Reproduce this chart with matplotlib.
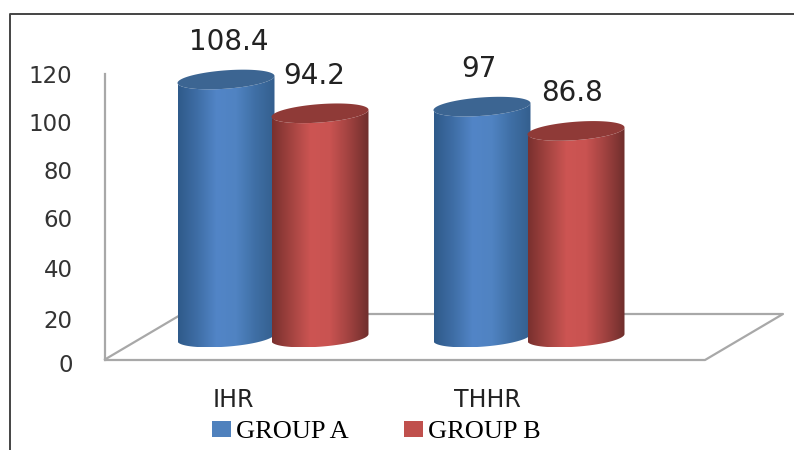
import matplotlib
matplotlib.use('Agg')
import matplotlib.pyplot as plt
from matplotlib.colors import LinearSegmentedColormap
from matplotlib.lines import Line2D
from matplotlib.patches import Patch, Polygon
from matplotlib.transforms import Affine2D
import numpy as np

categories = ['IHR', 'THHR']
group_names = ['GROUP A', 'GROUP B']
group_a = [108.4, 97]
group_b = [94.2, 86.8]
y_ticks = [0, 20, 40, 60, 80, 100, 120]

W, H = 794, 450
X_SCALE = 256.0  # px per category step
Y_SCALE = 2.38  # px per value unit
CAT0_PX = 273
ZERO_PX = 360

BAR_W = 97 / X_SCALE
BAR_OFFSET = 47 / X_SCALE
LIFT = 22.5 / Y_SCALE  # the bars stand further back on the floor

BLUE_STOPS = ['#2f5a8a', '#3f6ea6', '#5285c7', '#5083c2', '#3f6fa5', '#345f8e']
RED_STOPS = ['#7a302e', '#a44441', '#cd5553', '#c95351', '#a04240', '#6f2e2c']
BLUE_TOP = '#3c6592'
RED_TOP = '#8f3a37'
BLUE_KEY = '#4f81bd'
RED_KEY = '#c0504d'
FLOOR = '#a8a8a8'
TEXT = '#222222'

# sideways shift of the value labels, in points
label_shift = {108.4: 2, 94.2: -4, 97: -2, 86.8: -3}
# the lower tick labels sit slightly below their gridline level, in px
tick_drop = {0: 3, 20: 7, 40: 3, 60: 1, 80: 0, 100: 0, 120: 0}
# category label centres, px left of the group centre
cat_shift = {'IHR': 40, 'THHR': 42}


def ellipse_arc(cx, cy, t):
    # tilted rim of a cylinder, right side sits a little higher
    half_w = BAR_W / 2
    half_h = 9.2 / Y_SCALE
    skew = 3.5 / Y_SCALE
    return cx + half_w * np.cos(t), cy + half_h * np.sin(t) + skew * np.cos(t)


def cylinder(ax, cx, value, stops, top_color, z):
    base = LIFT
    top = value + LIFT
    t = np.linspace(np.pi, 2 * np.pi, 60)
    bx, by = ellipse_arc(cx, base, t)
    tx, ty = ellipse_arc(cx, top, t[::-1])
    body = Polygon(np.column_stack([np.r_[bx, tx], np.r_[by, ty]]),
                   closed=True, transform=ax.transData, fc='none', ec='none')
    ax.add_patch(body)

    cmap = LinearSegmentedColormap.from_list('shade', stops)
    gradient = np.linspace(0, 1, 200).reshape(1, -1)
    img = ax.imshow(gradient, cmap=cmap, aspect='auto', zorder=z,
                    extent=[cx - BAR_W / 2, cx + BAR_W / 2, by.min(), ty.max() + 1])
    img.set_clip_path(body)

    t_full = np.linspace(0, 2 * np.pi, 120)
    ex, ey = ellipse_arc(cx, top, t_full)
    ax.fill(ex, ey, color=top_color, zorder=z + 0.1, lw=0)


def px_line(ax, xs, ys, color, lw):
    ax.plot(np.array(xs) / W, 1 - np.array(ys) / H, color=color, lw=lw,
            transform=ax.transAxes, zorder=1, solid_capstyle='butt')


def main():
    fig = plt.figure(figsize=(W / 100, H / 100), dpi=100)
    ax = fig.add_axes([0, 0, 1, 1])

    # outer frame, only left and top edges are there
    fig.add_artist(Line2D([10 / W, 10 / W, 1], [0, 1 - 13.5 / H, 1 - 13.5 / H],
                          color='#444444', lw=1.4))

    # floor of the 3d box
    px_line(ax, [104, 705, 783, 182, 104], [360, 360, 314, 314, 360], FLOOR, 1.6)

    for i, cat in enumerate(categories):
        cylinder(ax, i - BAR_OFFSET, group_a[i], BLUE_STOPS, BLUE_TOP, 3)
        cylinder(ax, i + BAR_OFFSET, group_b[i], RED_STOPS, RED_TOP, 4)
        ax.text(i - cat_shift[cat] / X_SCALE, -40 / Y_SCALE, cat, ha='center', va='center',
                fontsize=17, color=TEXT)
        for x, val in [(i - BAR_OFFSET, group_a[i]), (i + BAR_OFFSET, group_b[i])]:
            ax.annotate(str(val), (x, val + LIFT), xytext=(label_shift[val], 27),
                        textcoords='offset points', ha='center', va='center',
                        fontsize=20, color=TEXT, zorder=6)

    ax.set_xlim(-CAT0_PX / X_SCALE, (W - CAT0_PX) / X_SCALE)
    ax.set_ylim((ZERO_PX - H) / Y_SCALE, ZERO_PX / Y_SCALE)

    for side in ['top', 'right', 'bottom']:
        ax.spines[side].set_visible(False)
    ax.spines['left'].set_position(('data', (104.5 - CAT0_PX) / X_SCALE))
    ax.spines['left'].set_bounds(0, 120)
    ax.spines['left'].set_color(FLOOR)
    ax.spines['left'].set_linewidth(1.6)
    ax.set_xticks([])
    ax.set_yticks(y_ticks)
    ax.tick_params(axis='y', length=0, pad=23, labelsize=16.5, labelcolor='#333333')
    for val, tick in zip(y_ticks, ax.yaxis.get_major_ticks()):
        lab = tick.label1
        lab.set_transform(lab.get_transform() + Affine2D().translate(0, -tick_drop[val]))

    handles = [Patch(fc=BLUE_KEY, ec='none'), Patch(fc=RED_KEY, ec='none')]
    ax.legend(handles, group_names, loc='center', bbox_to_anchor=(376.5 / W, 1 - 432 / H),
              ncols=2, frameon=False, handlelength=0.7, handleheight=0.56,
              handletextpad=0.2, columnspacing=2.1, borderpad=0, labelspacing=0,
              prop={'family': 'Liberation Serif', 'size': 19})

    fig.savefig('out.png', dpi=100)


if __name__ == '__main__':
    main()
